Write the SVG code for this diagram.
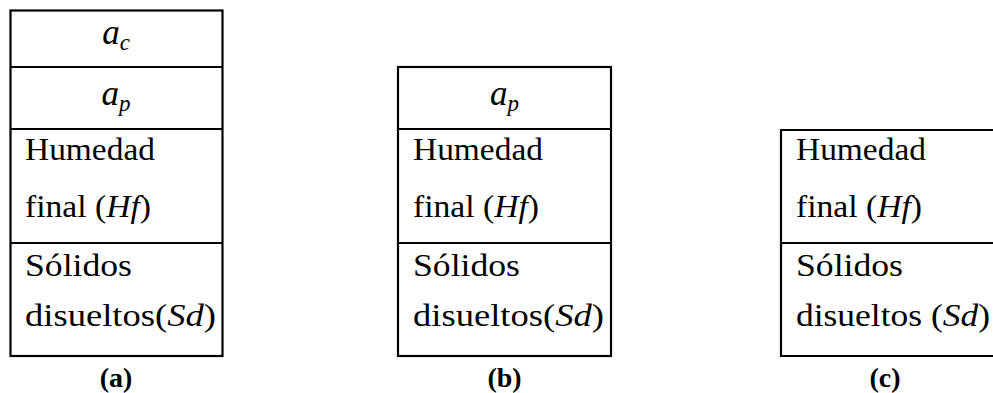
<svg xmlns="http://www.w3.org/2000/svg" width="993" height="393" viewBox="0 0 993 393">
  <style>
    .frame { fill: none; stroke: #000; stroke-width: 2.2; }
    .rule { stroke: #000; stroke-width: 2.2; }
    .t { font-family: "Liberation Serif", "DejaVu Serif", serif; font-size: 31px; fill: #000; }
    .m { font-family: "Liberation Serif", "DejaVu Serif", serif; font-style: italic; font-size: 35px; fill: #000; }
    .sub { font-size: 23px; }
    .i { font-style: italic; }
    .cap { font-family: "Liberation Serif", serif; font-weight: bold; font-size: 28px; text-anchor: middle; fill: #000; }
  </style>
  <rect width="993" height="393" fill="#fff"/>

  <!-- (a): four-row table -->
  <g id="table-a">
    <rect class="frame" x="10.5" y="10.5" width="212" height="345.5"/>
    <line class="rule" x1="10.5" y1="67" x2="222.5" y2="67"/>
    <line class="rule" x1="10.5" y1="129" x2="222.5" y2="129"/>
    <line class="rule" x1="10.5" y1="243" x2="222.5" y2="243"/>
    <text class="m" x="116" y="44" text-anchor="middle">a<tspan class="sub" dy="6">c</tspan></text>
    <text class="m" x="116" y="105" text-anchor="middle">a<tspan class="sub" dy="6">p</tspan></text>
    <text class="t" x="25" y="160" textLength="130" lengthAdjust="spacingAndGlyphs">Humedad</text>
    <text class="t" x="25" y="217" textLength="126" lengthAdjust="spacingAndGlyphs">final (<tspan class="i">Hf</tspan>)</text>
    <text class="t" x="25" y="276" textLength="107" lengthAdjust="spacingAndGlyphs">Sólidos</text>
    <text class="t" x="25" y="326" textLength="191" lengthAdjust="spacingAndGlyphs">disueltos(<tspan class="i">Sd</tspan>)</text>
    <text class="cap" x="116" y="387">(a)</text>
  </g>

  <!-- (b): three-row table -->
  <g id="table-b">
    <rect class="frame" x="398" y="67" width="213" height="289"/>
    <line class="rule" x1="398" y1="129" x2="611" y2="129"/>
    <line class="rule" x1="398" y1="243" x2="611" y2="243"/>
    <text class="m" x="504.5" y="105" text-anchor="middle">a<tspan class="sub" dy="6">p</tspan></text>
    <text class="t" x="413" y="160" textLength="130" lengthAdjust="spacingAndGlyphs">Humedad</text>
    <text class="t" x="413" y="217" textLength="126" lengthAdjust="spacingAndGlyphs">final (<tspan class="i">Hf</tspan>)</text>
    <text class="t" x="413" y="276" textLength="107" lengthAdjust="spacingAndGlyphs">Sólidos</text>
    <text class="t" x="413" y="326" textLength="191" lengthAdjust="spacingAndGlyphs">disueltos(<tspan class="i">Sd</tspan>)</text>
    <text class="cap" x="504.5" y="387">(b)</text>
  </g>

  <!-- (c): two-row table, right edge runs off the page -->
  <g id="table-c">
    <path class="frame" d="M996 130 H781 V356 H996"/>
    <line class="rule" x1="781" y1="243" x2="996" y2="243"/>
    <text class="t" x="796" y="160" textLength="130" lengthAdjust="spacingAndGlyphs">Humedad</text>
    <text class="t" x="796" y="217" textLength="126" lengthAdjust="spacingAndGlyphs">final (<tspan class="i">Hf</tspan>)</text>
    <text class="t" x="796" y="276" textLength="107" lengthAdjust="spacingAndGlyphs">Sólidos</text>
    <text class="t" x="796" y="326" textLength="194" lengthAdjust="spacingAndGlyphs">disueltos (<tspan class="i">Sd</tspan>)</text>
    <text class="cap" x="885" y="387">(c)</text>
  </g>
</svg>
